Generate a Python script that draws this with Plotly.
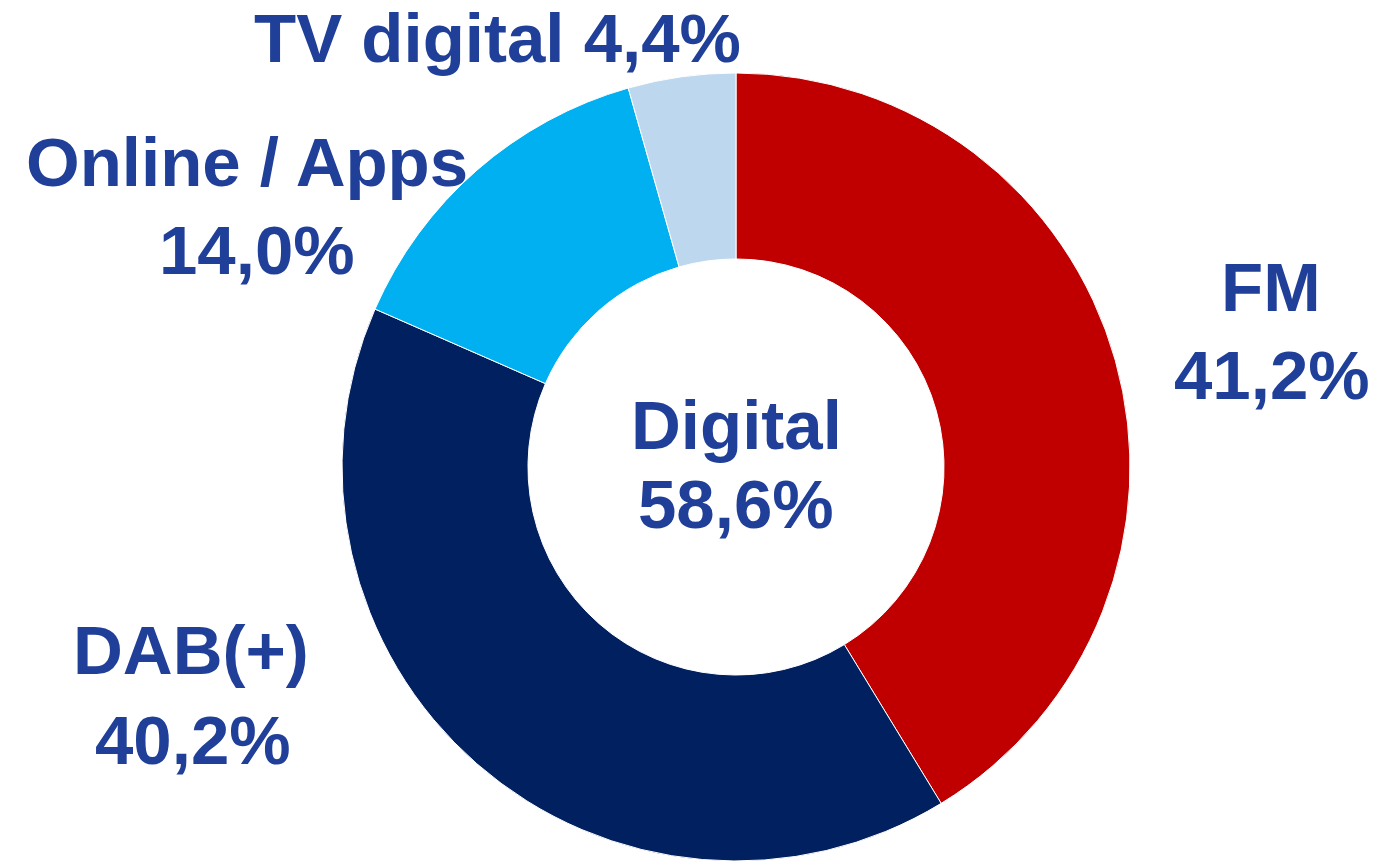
import plotly.graph_objects as go

categories = ["FM", "DAB(+)", "Online / Apps", "TV digital"]
values = [41.2, 40.2, 14.0, 4.4]
colors = ["#C00000", "#002060", "#00B0F0", "#BDD7EE"]
center_label = "Digital"
center_value = 58.6

W, H = 1386, 862
OFF = 8  # page body margin
TEXT_COLOR = "#1F3F98"
FONT = "Liberation Sans, Arial, sans-serif"

def fmt(v):
    return f"{v:.1f}".replace(".", ",") + "%"

cx, cy, r = 736 - OFF, 467 - OFF, 394

fig = go.Figure()
fig.add_trace(go.Pie(
    labels=categories,
    values=values,
    marker=dict(colors=colors, line=dict(color="white", width=1)),
    hole=0.528,
    sort=False,
    direction="clockwise",
    rotation=0,
    textinfo="none",
    hoverinfo="label+value",
    showlegend=False,
    domain=dict(x=[(cx - r) / W, (cx + r) / W],
                y=[(H - cy - r) / H, (H - cy + r) / H]),
))

# label positions in reference pixels (line centers)
lines = [
    (f"{categories[3]} {fmt(values[3])}", 497, 38),
    (categories[2], 247, 162),
    (fmt(values[2]), 257, 250),
    (categories[0], 1271, 288),
    (fmt(values[0]), 1272, 375),
    (categories[1], 191, 650),
    (fmt(values[1]), 193, 740),
    (center_label, 736, 426),
    (fmt(center_value), 736, 505),
]

for txt, px, py in lines:
    fig.add_annotation(
        text=f"<b>{txt}</b>", x=(px - OFF) / W, y=1 - (py - OFF) / H,
        xref="paper", yref="paper", xanchor="center", yanchor="middle",
        showarrow=False,
        font=dict(family=FONT, size=69, color=TEXT_COLOR),
    )

fig.update_layout(
    width=W, height=H,
    margin=dict(l=0, r=0, t=0, b=0),
    paper_bgcolor="white", plot_bgcolor="white",
)

fig.write_html("out.html")
